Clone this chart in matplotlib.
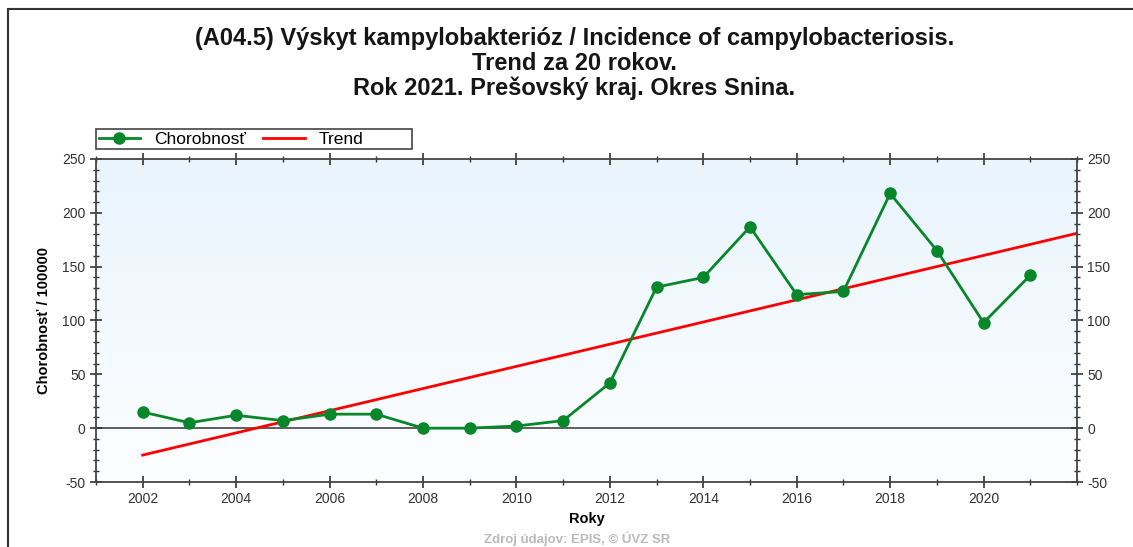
import matplotlib.pyplot as plt
import matplotlib.ticker as mticker
import numpy as np
from matplotlib.patches import Rectangle
from matplotlib.colors import LinearSegmentedColormap

plt.rcParams['font.family'] = ['Liberation Sans', 'DejaVu Sans']
plt.rcParams['axes.unicode_minus'] = False

roky = [2002, 2003, 2004, 2005, 2006, 2007, 2008, 2009, 2010, 2011,
        2012, 2013, 2014, 2015, 2016, 2017, 2018, 2019, 2020, 2021]
chorobnost = [15, 5, 12, 7, 13, 13, 0, 0, 2, 7,
              42, 131, 140, 187, 124, 127, 218, 165, 98, 142]
trend_x = [2002, 2022]
trend_y = [-25, 181]
x_popisky = [2002, 2004, 2006, 2008, 2010, 2012, 2014, 2016, 2018, 2020]

titulok = ["(A04.5) Výskyt kampylobakterióz / Incidence of campylobacteriosis.",
           "Trend za 20 rokov.",
           "Rok 2021. Prešovský kraj. Okres Snina."]

fig = plt.figure(figsize=(11.33, 5.47), dpi=100)
ax = fig.add_axes([96/1133, 65/547, 981/1133, 323/547])

# pozadie - jemny prechod do modra
grad = np.linspace(0, 1, 256).reshape(-1, 1)
ax.imshow(grad, extent=[2001, 2022, -50, 250], aspect='auto',
          cmap=LinearSegmentedColormap.from_list('bg', ['#fdfeff', '#e9f4fd']),
          origin='lower', zorder=0)

ax.axhline(0, color='#444444', lw=1.2, zorder=1)
ax.plot(trend_x, trend_y, color='#ff0000', lw=2, label='Trend', zorder=2)
ax.plot(roky, chorobnost, 'o-', color='#07872a', lw=2, ms=8,
        label='Chorobnosť', zorder=3)

ax.set_xlim(2001, 2022)
ax.set_ylim(-50, 250)
ax.set_xticks(x_popisky)
ax.xaxis.set_minor_locator(mticker.MultipleLocator(1))
ax.yaxis.set_major_locator(mticker.MultipleLocator(50))
ax.yaxis.set_minor_locator(mticker.MultipleLocator(10))
ax.tick_params(which='both', direction='inout', top=True, right=True,
               labelright=True, labelsize=10, colors='#333333')
ax.tick_params(which='major', length=8, width=1.2)
ax.tick_params(which='minor', length=5, width=1)
for s in ax.spines.values():
    s.set_color('#444444')
    s.set_linewidth(1.3)

ax.set_xlabel('Roky', fontsize=10.5, fontweight='bold', labelpad=4)
ax.set_ylabel('Chorobnosť / 100000', fontsize=10.5, fontweight='bold', labelpad=8)

h, l = ax.get_legend_handles_labels()
leg = ax.legend(h[::-1], l[::-1], loc='lower left', bbox_to_anchor=(0, 1.03),
                borderaxespad=0, ncol=2, frameon=False,
                fontsize=12.5, borderpad=0.15, handlelength=2.4,
                columnspacing=1.0, handletextpad=0.8)
# ramik legendy je v originali sirsi nez jej obsah
fig.patches.append(Rectangle((96/1133, 1 - 149/547), 316/1133, 20/547,
                             transform=fig.transFigure, fill=False,
                             edgecolor='#444444', lw=1.2))

for i, riadok in enumerate(titulok):
    fig.text(0.507, 1 - (45 + 25 * i)/547, riadok, ha='center',
             va='baseline', fontsize=17, fontweight='bold', color='#151515')
fig.text(0.509, 1/547, 'Zdroj údajov: EPIS, © ÚVZ SR', ha='center',
         va='bottom', fontsize=9.5, fontweight='bold', color='#bbbbbb')

fig.patches.append(Rectangle((8/1133, -0.1), 1.2, 1.1 - 9/547,
                             transform=fig.transFigure, fill=False,
                             edgecolor='#333333', lw=1.5))

fig.savefig('out.png', dpi=100)
